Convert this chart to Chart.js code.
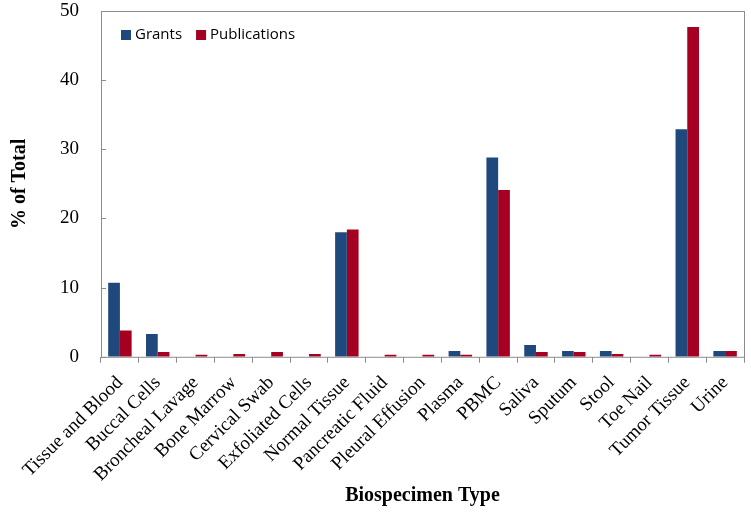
<!DOCTYPE html>
<html>
<head>
<meta charset="utf-8">
<script src="https://cdn.jsdelivr.net/npm/chart.js@4.4.0/dist/chart.umd.min.js"></script>
<style>
  body { margin: 0; background: #fff; }
  #wrap { width: 751px; height: 520px; }
</style>
</head>
<body>
<div id="wrap"><canvas id="bioChart"></canvas></div>
<script>
const categories = [
    'Tissue and Blood', 'Buccal Cells', 'Broncheal Lavage', 'Bone Marrow',
    'Cervical Swab', 'Exfoliated Cells', 'Normal Tissue', 'Pancreatic Fluid',
    'Pleural Effusion', 'Plasma', 'PBMC', 'Saliva', 'Sputum', 'Stool',
    'Toe Nail', 'Tumor Tissue', 'Urine'
];
const grants = [10.7, 3.3, 0, 0, 0, 0, 18.0, 0, 0, 0.85, 28.8, 1.7, 0.85, 0.85, 0, 32.9, 0.85];
const publications = [3.8, 0.7, 0.3, 0.4, 0.7, 0.4, 18.4, 0.3, 0.3, 0.3, 24.1, 0.7, 0.7, 0.4, 0.3, 47.7, 0.85];
const yTicks = [0, 10, 20, 30, 40, 50];

// frame around the plot + inward y ticks, like the original
const framePlugin = {
    id: 'frame',
    afterDraw(chart) {
        const { ctx, chartArea: a, scales } = chart;
        ctx.save();
        ctx.strokeStyle = '#8c8c8c';
        ctx.lineWidth = 1;
        ctx.strokeRect(a.left + 0.5, a.top + 0.5, a.right - a.left, a.bottom - a.top);
        yTicks.forEach(v => {
            const y = Math.round(scales.y.getPixelForValue(v)) + 0.5;
            ctx.beginPath();
            ctx.moveTo(a.left, y);
            ctx.lineTo(a.left + 5, y);
            ctx.stroke();
        });
        ctx.restore();
    }
};

// horizontal legend inside the top-left of the plot
const insideLegend = {
    id: 'insideLegend',
    afterDraw(chart) {
        const { ctx, chartArea: a } = chart;
        let x = a.left + 20;
        const y = a.top + 24;
        ctx.save();
        ctx.font = '15px "Open Sans"';
        ctx.textBaseline = 'middle';
        chart.data.datasets.forEach(ds => {
            ctx.fillStyle = ds.backgroundColor;
            ctx.fillRect(x, y - 5, 10, 10);
            ctx.fillStyle = '#000';
            ctx.fillText(ds.label, x + 14, y);
            x += 14 + ctx.measureText(ds.label).width + 14;
        });
        ctx.restore();
    }
};

const ctx = document.getElementById('bioChart');
const bioChart = new Chart(ctx, {
    type: 'bar',
    data: {
        labels: categories,
        datasets: [{
            label: 'Grants',
            data: grants,
            backgroundColor: '#1f497d',
            categoryPercentage: 0.62,
            barPercentage: 1.0
        }, {
            label: 'Publications',
            data: publications,
            backgroundColor: '#a50021',
            categoryPercentage: 0.62,
            barPercentage: 1.0
        }]
    },
    options: {
        responsive: true,
        maintainAspectRatio: false,
        animation: false,
        layout: {
            padding: { top: 11, right: 7, left: 4, bottom: 8 }
        },
        scales: {
            y: {
                min: 0,
                max: 50,
                afterFit(scale) { scale.paddingTop = 0; },
                ticks: {
                    stepSize: 10,
                    color: '#000',
                    padding: 14,
                    font: { family: 'Liberation Serif', size: 19 }
                },
                grid: { display: false },
                border: { display: false },
                title: {
                    display: true,
                    text: '% of Total',
                    color: '#000',
                    padding: { bottom: 14 },
                    font: { family: 'Liberation Serif', size: 20, weight: 'bold' }
                }
            },
            x: {
                afterFit(scale) { scale.height -= 19; scale.paddingTop = 0; },
                ticks: {
                    color: '#000',
                    minRotation: 45,
                    maxRotation: 45,
                    autoSkip: false,
                    padding: 9,
                    font: { family: 'Liberation Serif', size: 19 }
                },
                grid: {
                    drawOnChartArea: false,
                    tickLength: 6,
                    color: '#8c8c8c'
                },
                border: { display: false },
                title: {
                    display: true,
                    text: 'Biospecimen Type',
                    color: '#000',
                    padding: { top: 8 },
                    font: { family: 'Liberation Serif', size: 20, weight: 'bold' }
                }
            }
        },
        plugins: {
            legend: { display: false },
            tooltip: { enabled: false }
        }
    },
    plugins: [framePlugin, insideLegend]
});
</script>
</body>
</html>
